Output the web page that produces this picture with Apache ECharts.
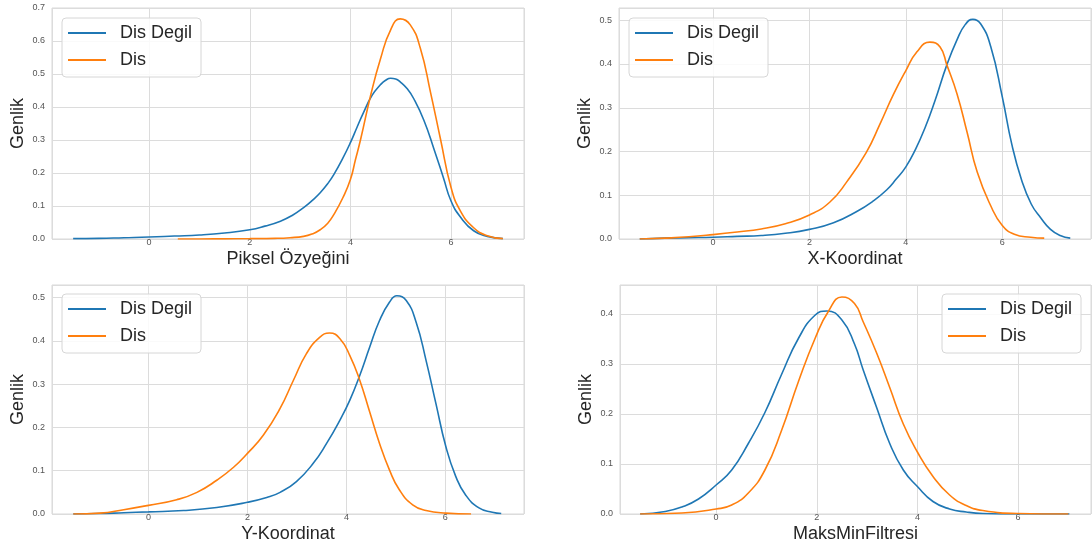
<!DOCTYPE html>
<html>
<head>
<meta charset="utf-8">
<script src="https://cdn.jsdelivr.net/npm/echarts@6/dist/echarts.min.js"></script>
<style>
  html, body { margin: 0; padding: 0; background: #fff; }
  #chart { width: 1092px; height: 547px; }
</style>
</head>
<body>
<div id="chart"></div>
<script>
// series names
const names = ["Dis Degil", "Dis"];
const xTitles = ["Piksel Özyeğini", "X-Koordinat", "Y-Koordinat", "MaksMinFiltresi"];

// Piksel Özyeğini
const pikselDegilX = [-1.51, -1, -0.5, 0, 0.5, 1, 1.5, 2, 2.3, 2.61, 2.85, 3.07, 3.25, 3.4, 3.55, 3.67, 3.85, 4.0, 4.13, 4.26, 4.43, 4.6, 4.7, 4.8, 4.9, 4.99, 5.13, 5.26, 5.46, 5.66, 5.85, 6.0, 6.19, 6.45, 6.72, 7.03];
const pikselDegilY = [0.001, 0.002, 0.004, 0.006, 0.009, 0.012, 0.018, 0.028, 0.039, 0.054, 0.072, 0.095, 0.118, 0.14, 0.168, 0.195, 0.245, 0.292, 0.338, 0.383, 0.435, 0.468, 0.481, 0.487, 0.485, 0.476, 0.455, 0.425, 0.36, 0.273, 0.185, 0.115, 0.066, 0.025, 0.008, 0.001];
const pikselDisX = [0.57, 1, 1.5, 2, 2.5, 2.8, 3.07, 3.25, 3.4, 3.55, 3.67, 3.85, 4.0, 4.1, 4.2, 4.41, 4.6, 4.8, 4.99, 5.19, 5.39, 5.59, 5.79, 6.0, 6.19, 6.45, 6.72, 7.03];
const pikselDisY = [0.0, 0.0, 0.0005, 0.001, 0.002, 0.004, 0.008, 0.016, 0.028, 0.048, 0.074, 0.125, 0.18, 0.24, 0.30, 0.44, 0.547, 0.634, 0.667, 0.649, 0.578, 0.446, 0.303, 0.156, 0.084, 0.034, 0.01, 0.001];

// X-Koordinat
const xKoorDegilX = [-1.52, -1, -0.5, 0, 0.5, 1, 1.5, 2, 2.5, 3.0, 3.3, 3.6, 3.8, 4.0, 4.2, 4.4, 4.6, 4.85, 5.06, 5.23, 5.39, 5.55, 5.76, 6.0, 6.2, 6.4, 6.6, 6.8, 7.0, 7.2, 7.41];
const xKoorDegilY = [0.0, 0.002, 0.003, 0.004, 0.006, 0.008, 0.013, 0.022, 0.037, 0.064, 0.085, 0.112, 0.137, 0.165, 0.205, 0.255, 0.315, 0.398, 0.455, 0.49, 0.502, 0.492, 0.44, 0.325, 0.215, 0.135, 0.08, 0.048, 0.022, 0.008, 0.002];
const xKoorDisX = [-1.52, -1, -0.5, 0, 0.5, 1, 1.5, 2, 2.42, 2.77, 3.18, 3.46, 3.74, 4.0, 4.23, 4.5, 4.71, 4.85, 5.06, 5.27, 5.48, 5.76, 6.0, 6.25, 6.59, 6.87];
const xKoorDisY = [0.0, 0.002, 0.005, 0.01, 0.016, 0.023, 0.035, 0.055, 0.084, 0.13, 0.198, 0.262, 0.33, 0.385, 0.428, 0.45, 0.439, 0.398, 0.332, 0.244, 0.153, 0.076, 0.031, 0.011, 0.004, 0.002];

// Y-Koordinat
const yKoorDegilX = [-1.52, -1, -0.5, 0, 0.71, 1.38, 2.0, 2.39, 2.66, 2.99, 3.33, 3.6, 3.87, 4.07, 4.27, 4.47, 4.67, 4.87, 5.02, 5.21, 5.41, 5.61, 5.81, 6.01, 6.21, 6.41, 6.68, 6.95, 7.13];
const yKoorDegilY = [0.0, 0.001, 0.003, 0.005, 0.008, 0.015, 0.027, 0.038, 0.05, 0.075, 0.117, 0.163, 0.217, 0.263, 0.32, 0.385, 0.447, 0.489, 0.504, 0.493, 0.443, 0.355, 0.255, 0.156, 0.087, 0.044, 0.014, 0.004, 0.001];
const yKoorDisX = [-1.52, -0.98, -0.5, 0, 0.57, 0.98, 1.38, 1.72, 2.0, 2.32, 2.66, 2.93, 3.19, 3.46, 3.66, 3.87, 4.07, 4.27, 4.47, 4.67, 4.87, 5.07, 5.34, 5.61, 6.01, 6.52];
const yKoorDisY = [0.0, 0.002, 0.01, 0.02, 0.033, 0.05, 0.078, 0.108, 0.14, 0.182, 0.244, 0.309, 0.37, 0.408, 0.418, 0.405, 0.366, 0.309, 0.236, 0.163, 0.102, 0.056, 0.021, 0.008, 0.002, 0.0];

// MaksMinFiltresi
const maksDegilX = [-1.51, -1.01, -0.68, -0.35, 0, 0.31, 0.64, 0.97, 1.3, 1.64, 1.97, 2.2, 2.5, 2.75, 2.92, 3.19, 3.45, 3.72, 4.0, 4.31, 4.64, 4.97, 5.3, 6.0, 7.02];
const maksDegilY = [0.0, 0.005, 0.014, 0.03, 0.058, 0.088, 0.141, 0.203, 0.279, 0.352, 0.398, 0.406, 0.388, 0.34, 0.289, 0.213, 0.141, 0.088, 0.055, 0.025, 0.01, 0.004, 0.001, 0.0, 0.0];
const maksDisX = [-1.51, -0.68, 0, 0.31, 0.64, 0.97, 1.3, 1.64, 1.97, 2.23, 2.5, 2.75, 2.92, 3.19, 3.45, 3.72, 4.0, 4.31, 4.64, 4.97, 5.3, 6.0, 7.0];
const maksDisY = [0.0, 0.002, 0.01, 0.018, 0.042, 0.088, 0.167, 0.266, 0.352, 0.405, 0.434, 0.421, 0.385, 0.322, 0.253, 0.18, 0.124, 0.075, 0.038, 0.017, 0.007, 0.001, 0.0];

// axis ranges per panel
const xMins = [-1.93, -1.95, -1.95, -1.91];
const xMaxs = [7.45, 7.84, 7.59, 7.45];
const yMaxs = [0.7, 0.528, 0.529, 0.458];

const curves = [
  [[pikselDegilX, pikselDegilY], [pikselDisX, pikselDisY]],
  [[xKoorDegilX, xKoorDegilY], [xKoorDisX, xKoorDisY]],
  [[yKoorDegilX, yKoorDegilY], [yKoorDisX, yKoorDisY]],
  [[maksDegilX, maksDegilY], [maksDisX, maksDisY]],
];

const FONT = "Liberation Sans";
const colors = ["#1f77b4", "#ff7f0e"];

const grids = [
  { left: 52, top: 8, width: 472, height: 231 },
  { left: 619, top: 8, width: 472, height: 231 },
  { left: 52, top: 285, width: 472, height: 229 },
  { left: 620, top: 285, width: 471, height: 229 },
];
const legendPos = [
  { left: 62, top: 18 },
  { left: 629, top: 18 },
  { left: 62, top: 294 },
  { left: 942, top: 294 },
];

const chart = echarts.init(document.getElementById("chart"), null, { renderer: "canvas" });

const option = {
  animation: false,
  color: colors,
  grid: grids.map((g) => ({ ...g, show: true, borderColor: "#d9d9d9", borderWidth: 1 })),
  xAxis: grids.map((g, i) => ({
    type: "value",
    gridIndex: i,
    min: xMins[i],
    max: xMaxs[i],
    name: xTitles[i],
    nameLocation: "middle",
    nameGap: 11,
    nameTextStyle: { fontFamily: FONT, fontSize: 18, color: "#262626" },
    axisLine: { show: false },
    axisTick: { show: false },
    axisLabel: {
      showMinLabel: false,
      showMaxLabel: false,
      margin: -1,
      fontFamily: FONT,
      fontSize: 9,
      color: "#555",
    },
    splitLine: { lineStyle: { color: "#dcdcdc", width: 1 } },
  })),
  yAxis: grids.map((g, i) => ({
    type: "value",
    gridIndex: i,
    min: 0,
    max: yMaxs[i],
    splitNumber: i === 0 ? 7 : 5,
    name: "Genlik",
    nameLocation: "middle",
    nameGap: 25,
    nameTextStyle: { fontFamily: FONT, fontSize: 18, color: "#262626" },
    axisLine: { show: false },
    axisTick: { show: false },
    axisLabel: {
      showMaxLabel: i === 0,
      margin: 7,
      fontFamily: FONT,
      fontSize: 9,
      color: "#555",
      formatter: (v) => v.toFixed(1),
    },
    splitLine: { lineStyle: { color: "#dcdcdc", width: 1 } },
  })),
  legend: legendPos.map((p) => ({
    ...p,
    orient: "vertical",
    data: names,
    icon: "rect",
    itemWidth: 38,
    itemHeight: 2,
    itemGap: 7,
    padding: [5, 9, 7, 6],
    backgroundColor: "rgba(255,255,255,0.85)",
    borderColor: "#d6d6d6",
    borderWidth: 1,
    borderRadius: 4,
    selectedMode: false,
    textStyle: {
      fontFamily: FONT,
      fontSize: 18,
      color: "#262626",
      lineHeight: 20,
      padding: [0, 0, 0, 9],
    },
  })),
  series: curves.flatMap((pair, i) =>
    pair.map(([xs, ys], k) => ({
      name: names[k],
      type: "line",
      xAxisIndex: i,
      yAxisIndex: i,
      data: xs.map((x, j) => [x, ys[j]]),
      smooth: 0.5,
      showSymbol: false,
      lineStyle: { width: 1.6, color: colors[k] },
      itemStyle: { color: colors[k] },
    }))
  ),
};

chart.setOption(option);
</script>
</body>
</html>
